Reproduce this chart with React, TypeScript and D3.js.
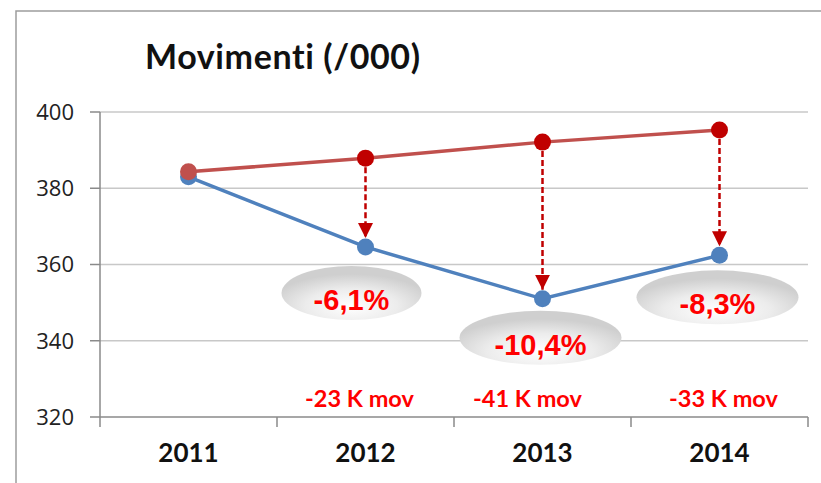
import React from "react";
import * as d3 from "d3";

// chart values
const years = ["2011", "2012", "2013", "2014"];
const movPrev = [384.3, 387.9, 392.1, 395.3]; // red series
const movCurr = [383.0, 364.6, 351.0, 362.4]; // blue series
const pctLabels = ["", "-6,1%", "-10,4%", "-8,3%"];
const kLabels = ["", "-23 K mov", "-41 K mov", "-33 K mov"];
const yTicks = [320, 340, 360, 380, 400];

// annotation placement (pixels relative to the blue point)
const bubbleOffset = [null, { dx: -14, dy: 46 }, { dx: -2, dy: 39 }, { dx: -2, dy: 42 }];
const kOffset = [0, -6, -15, 4];

const W = 821;
const H = 483;
const left = 100;
const right = 808;
const top = 112;
const bottom = 417;

const RED = "#C0504D";
const DARK_RED = "#C00000";
const BLUE = "#4F81BD";

const App = () => {
  const x = d3.scaleBand().domain(years).range([left, right]);
  const y = d3.scaleLinear().domain([320, 400]).range([bottom, top]);
  const cx = (d: string) => (x(d) as number) + x.bandwidth() / 2;

  const line = d3.line<number>()
    .x((_, i) => cx(years[i]))
    .y((v) => y(v));

  const bandEdges = years.map((d) => x(d) as number).concat([right]);

  return (
    <svg width={W} height={H} style={{ position: "absolute", left: 0, top: 0, background: "#fff" }}>
      <defs>
        <radialGradient id="bubble" cx="50%" cy="75%" r="60%">
          <stop offset="0%" stopColor="#ffffff" />
          <stop offset="55%" stopColor="#ececec" />
          <stop offset="100%" stopColor="#cfcfcf" />
        </radialGradient>
        <marker id="head" viewBox="0 0 10 10" refX="10" refY="5" markerWidth="6" markerHeight="6" orient="auto" markerUnits="strokeWidth">
          <path d="M0,0 L10,5 L0,10 z" fill={DARK_RED} />
        </marker>
      </defs>

      {/* frame */}
      <path d={`M16,${H} L16,11 L${W},11`} fill="none" stroke="#9d9d9d" strokeWidth={1.5} />

      {/* title */}
      <text x={145} y={69} fontFamily="Lato, 'Open Sans', sans-serif" fontWeight="bold" fontSize={34} letterSpacing={0.6} fill="#111">
        Movimenti (/000)
      </text>

      {/* gridlines + y ticks */}
      {yTicks.map((t) => (
        <g key={t}>
          {t > 320 && <line x1={left} x2={right} y1={y(t)} y2={y(t)} stroke="#c8c8c8" strokeWidth={1.5} />}
          <line x1={left - 10} x2={left} y1={y(t)} y2={y(t)} stroke="#8a8a8a" strokeWidth={1.5} />
          <text x={74} y={y(t)} dy="0.36em" textAnchor="end" fontFamily="'Open Sans', Lato, sans-serif" fontSize={22} fill="#222">
            {t}
          </text>
        </g>
      ))}

      {/* axes */}
      <line x1={left} x2={left} y1={top} y2={bottom} stroke="#8a8a8a" strokeWidth={1.5} />
      <line x1={left} x2={right} y1={bottom} y2={bottom} stroke="#8a8a8a" strokeWidth={1.5} />
      {bandEdges.map((e, i) => (
        <line key={i} x1={e} x2={e} y1={bottom} y2={bottom + 10} stroke="#8a8a8a" strokeWidth={1.5} />
      ))}
      {years.map((d) => (
        <text key={d} x={cx(d)} y={462} textAnchor="middle" fontFamily="Lato, sans-serif" fontWeight="bold" fontSize={26} fill="#111">
          {d}
        </text>
      ))}

      {/* series lines */}
      <path d={line(movCurr) || ""} fill="none" stroke={BLUE} strokeWidth={3.5} />
      {movCurr.map((v, i) => (
        <circle key={"b" + i} cx={cx(years[i])} cy={y(v)} r={8.5} fill={BLUE} />
      ))}
      <path d={line(movPrev) || ""} fill="none" stroke={RED} strokeWidth={3.5} />
      {movPrev.map((v, i) => (
        <circle key={"r" + i} cx={cx(years[i])} cy={y(v)} r={8.5} fill={i === 0 ? RED : DARK_RED} />
      ))}

      {/* drop arrows */}
      {movPrev.map((v, i) =>
        i === 0 ? null : (
          <line
            key={"a" + i}
            x1={cx(years[i])}
            x2={cx(years[i])}
            y1={y(v) + 9}
            y2={y(movCurr[i]) - 9}
            stroke={DARK_RED}
            strokeWidth={2.5}
            strokeDasharray="6,3"
            markerEnd="url(#head)"
          />
        )
      )}

      {/* percentage bubbles */}
      {bubbleOffset.map((o, i) => {
        if (!o) return null;
        const bx = cx(years[i]) + o.dx;
        const by = y(movCurr[i]) + o.dy;
        const rx = i === 1 ? 70 : 81;
        return (
          <g key={"p" + i}>
            <ellipse cx={bx} cy={by} rx={rx} ry={27} fill="url(#bubble)" />
            <text x={bx} y={by + 17} textAnchor="middle" fontFamily="'Liberation Sans', Arial, sans-serif" fontWeight="bold" fontSize={29} fill="#ff0000">
              {pctLabels[i]}
            </text>
          </g>
        );
      })}

      {/* absolute change labels */}
      {kLabels.map((k, i) =>
        k ? (
          <text key={"k" + i} x={cx(years[i]) + kOffset[i]} y={407} textAnchor="middle" fontFamily="Lato, sans-serif" fontWeight="bold" fontSize={23.5} fill="#ff0000">
            {k}
          </text>
        ) : null
      )}
    </svg>
  );
};

export default App;
